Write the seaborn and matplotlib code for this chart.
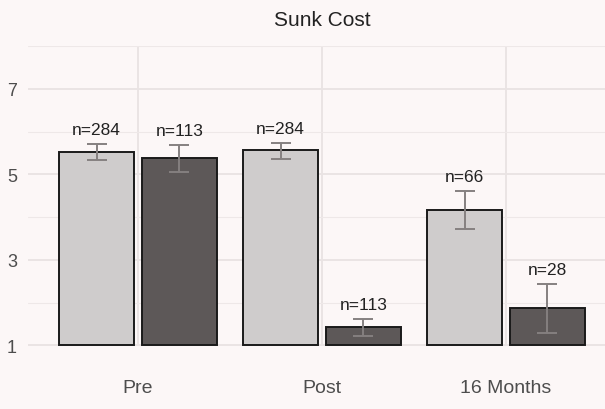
import numpy as np
import pandas as pd
import matplotlib
matplotlib.use("Agg")
import matplotlib.pyplot as plt
import seaborn as sns

phases = ["Pre", "Post", "16 Months"]
groups = ["A", "B"]
means = [5.52, 5.38, 5.57, 1.42, 4.16, 1.87]
lower = [5.33, 5.05, 5.36, 1.21, 3.72, 1.28]
upper = [5.71, 5.68, 5.73, 1.61, 4.61, 2.43]
ns = [284, 113, 284, 113, 66, 28]

df = pd.DataFrame({
    "phase": np.repeat(phases, 2),
    "group": groups * 3,
    "mean": means,
    "lo": lower,
    "hi": upper,
    "n": ns,
})

bg = "#fcf7f7"
sns.set_theme(style="white")
plt.rcParams["font.family"] = ["Liberation Sans", "DejaVu Sans"]

fig = plt.figure(figsize=(6.05, 4.10), dpi=100, facecolor=bg)
ax = fig.add_axes([28 / 605, (410 - 347) / 410, 577 / 605, (347 - 47) / 410])
ax.set_facecolor(bg)

sns.barplot(data=df, x="phase", y="mean", hue="group", order=phases,
            hue_order=groups, palette=["#d0cbcb", "#5e5757"],
            edgecolor="#1a1a1a", linewidth=1.4, width=0.9, gap=0.09,
            errorbar=None, legend=False, zorder=3, ax=ax)

# bars start at 1 like the original
for p in ax.patches:
    h = p.get_height()
    p.set_y(1)
    p.set_height(h - 1)

# errorbars and n labels at bar centres
centres = sorted([p.get_x() + p.get_width() / 2 for p in ax.patches])
for xc, (_, row) in zip(centres, df.iterrows()):
    ax.errorbar(xc, row["mean"], yerr=[[row["mean"] - row["lo"]], [row["hi"] - row["mean"]]],
                fmt="none", ecolor="#858080", elinewidth=1.4, capsize=7.2,
                capthick=1.4, zorder=4)
    ax.annotate(f"n={row['n']}", (xc, row["hi"]), xytext=(0, 5),
                textcoords="offset points", ha="center", va="bottom",
                fontsize=12.5, color="#222222")

ax.set_ylim(0.985, 8)
ax.set_xlim(-0.598, 2.538)
ax.set_yticks([1, 3, 5, 7])
ax.set_yticks([2, 4, 6, 8], minor=True)
ax.grid(axis="y", which="major", color="#e9e3e3", linewidth=1.3, zorder=0)
ax.grid(axis="y", which="minor", color="#eee8e8", linewidth=0.8, zorder=0)
ax.grid(axis="x", which="major", color="#e9e3e3", linewidth=1.3, zorder=0)
ax.set_axisbelow(True)
for s in ax.spines.values():
    s.set_visible(False)
ax.tick_params(axis="both", which="both", length=0)
ax.tick_params(axis="x", pad=24, labelsize=14, labelcolor="#4d4d4d")
ax.tick_params(axis="y", pad=8, labelsize=13, labelcolor="#4d4d4d")
ax.set_xlabel("")
ax.set_ylabel("")

fig.text(322 / 605, 1 - 20 / 410, "Sunk Cost", ha="center", va="center",
         fontsize=15, color="#222222")

fig.savefig("out.png", dpi=100, facecolor=bg)
